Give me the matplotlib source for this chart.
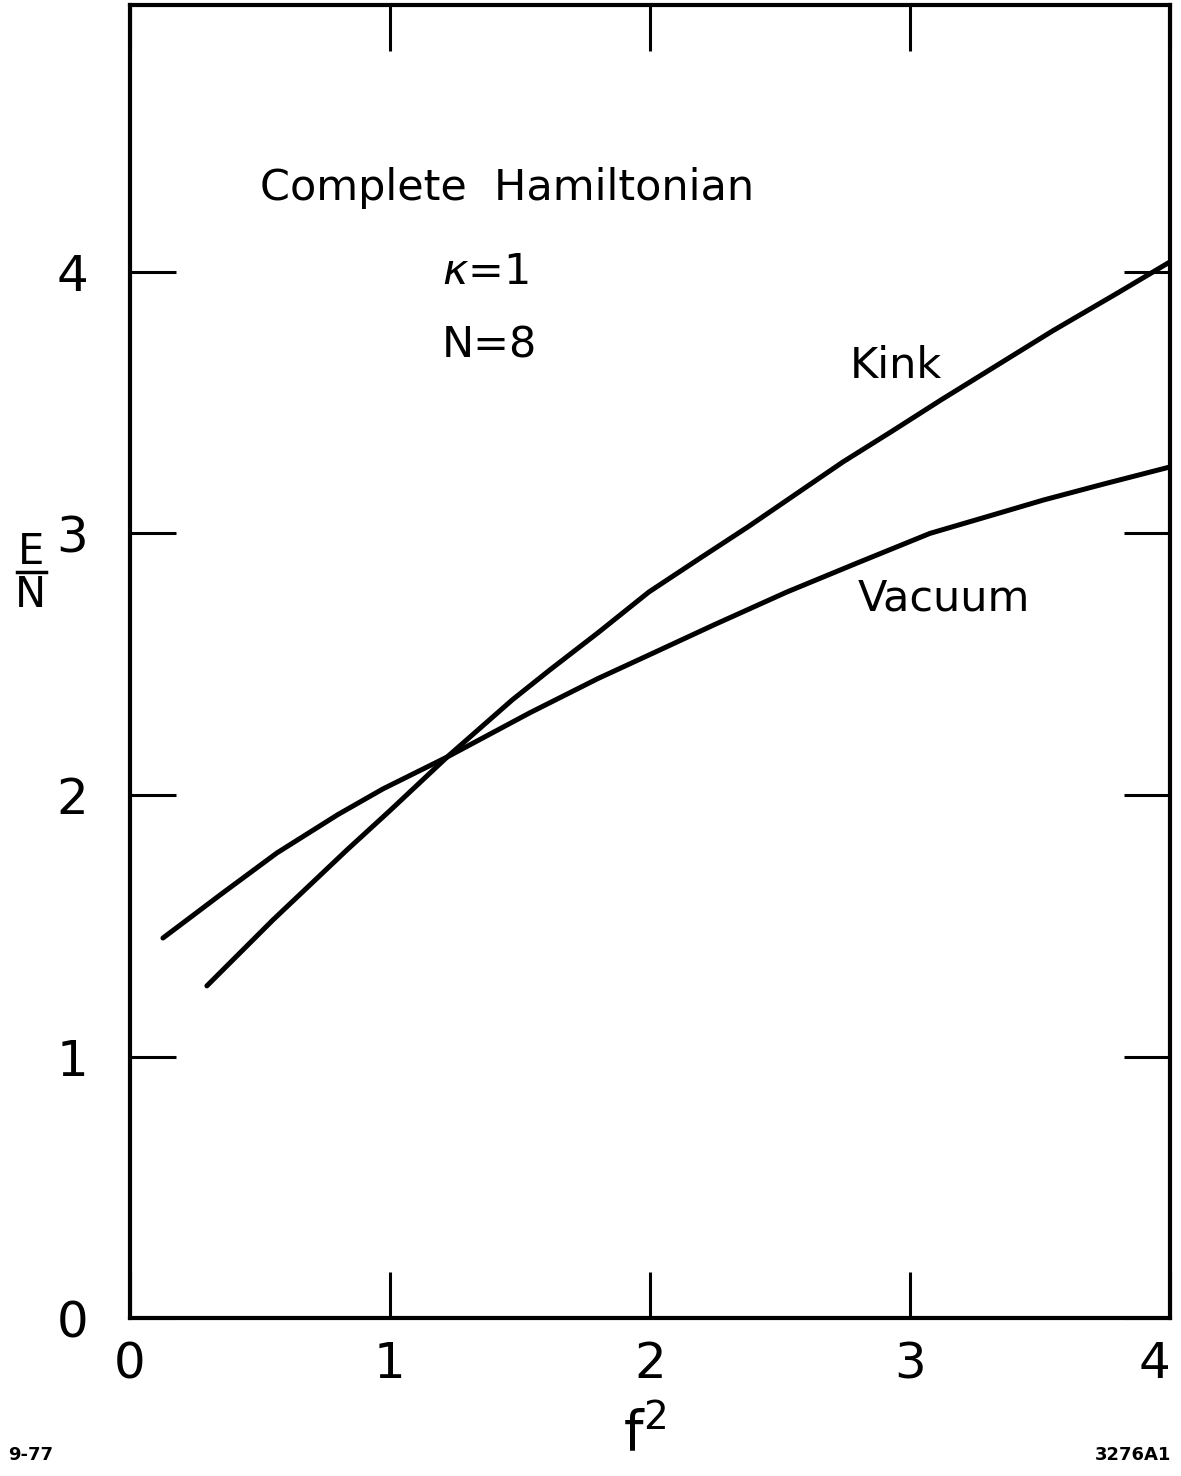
import matplotlib.pyplot as plt
from matplotlib.lines import Line2D

kink_f2 = [0.296, 0.55, 0.7, 0.835, 1.0, 1.22, 1.47, 1.615, 1.8, 1.996, 2.2, 2.377,
           2.742, 2.93, 3.119, 3.55, 3.8, 4.0]
kink_en = [1.27, 1.522, 1.663, 1.79, 1.94, 2.145, 2.363, 2.478, 2.62, 2.776, 2.91, 3.025,
           3.273, 3.39, 3.51, 3.775, 3.92, 4.038]

vac_f2 = [0.127, 0.25, 0.35, 0.565, 0.8, 0.973, 1.22, 1.538, 1.8, 1.981, 2.25, 2.527,
          2.8, 3.077, 3.3, 3.515, 3.75, 4.0]
vac_en = [1.453, 1.545, 1.62, 1.778, 1.925, 2.023, 2.145, 2.314, 2.445, 2.528, 2.652, 2.776,
          2.888, 3.0, 3.065, 3.128, 3.19, 3.254]

ticks = [0, 1, 2, 3, 4]
tick_labels = ['0', '1', '2', '3', '4']


def main():
    fig = plt.figure(figsize=(11.81, 14.76), dpi=100)
    ax = fig.add_axes([0.110, 0.107, 0.8807, 0.8896])

    ax.plot(kink_f2, kink_en, color='black', lw=3.6, solid_capstyle='round',
            solid_joinstyle='round')
    ax.plot(vac_f2, vac_en, color='black', lw=3.6, solid_capstyle='round',
            solid_joinstyle='round')

    ax.set_xlim(0, 4)
    ax.set_ylim(0, 5.02)
    ax.set_xticks(ticks)
    ax.set_xticklabels(tick_labels)
    ax.set_yticks(ticks)
    ax.set_yticklabels(tick_labels)
    ax.tick_params(axis='both', direction='in', length=33, width=2.2,
                   top=True, right=True, labelsize=36)
    ax.tick_params(axis='x', pad=16)
    ax.tick_params(axis='y', pad=30)
    for s in ax.spines.values():
        s.set_linewidth(3)
    # last x label sits against the page edge, as in the original
    ax.get_xticklabels()[-1].set_horizontalalignment('right')

    ax.text(0.50, 4.32, 'Complete  Hamiltonian', fontsize=31, va='center')
    ax.text(1.20, 4.00, r'$\kappa$=1', fontsize=31, va='center')
    ax.text(1.20, 3.72, 'N=8', fontsize=31, va='center')
    ax.text(2.77, 3.64, 'Kink', fontsize=31, va='center')
    ax.text(2.80, 2.75, 'Vacuum', fontsize=31, va='center')

    # y label as stacked E / N
    fig.text(0.026, 0.626, 'E', fontsize=30, ha='center', va='center')
    fig.add_artist(Line2D([0.014, 0.039], [0.6125, 0.6125], color='black', lw=2.5))
    fig.text(0.026, 0.597, 'N', fontsize=30, ha='center', va='center')

    fig.text(0.546, 0.028, r'f$^2$', fontsize=40, ha='center', va='center')
    fig.text(0.007, 0.014, '9-77', fontsize=13, fontweight='bold', va='center')
    fig.text(0.992, 0.014, '3276A1', fontsize=13, fontweight='bold', ha='right', va='center')

    fig.savefig('out.png', dpi=100)


if __name__ == "__main__":
    main()
